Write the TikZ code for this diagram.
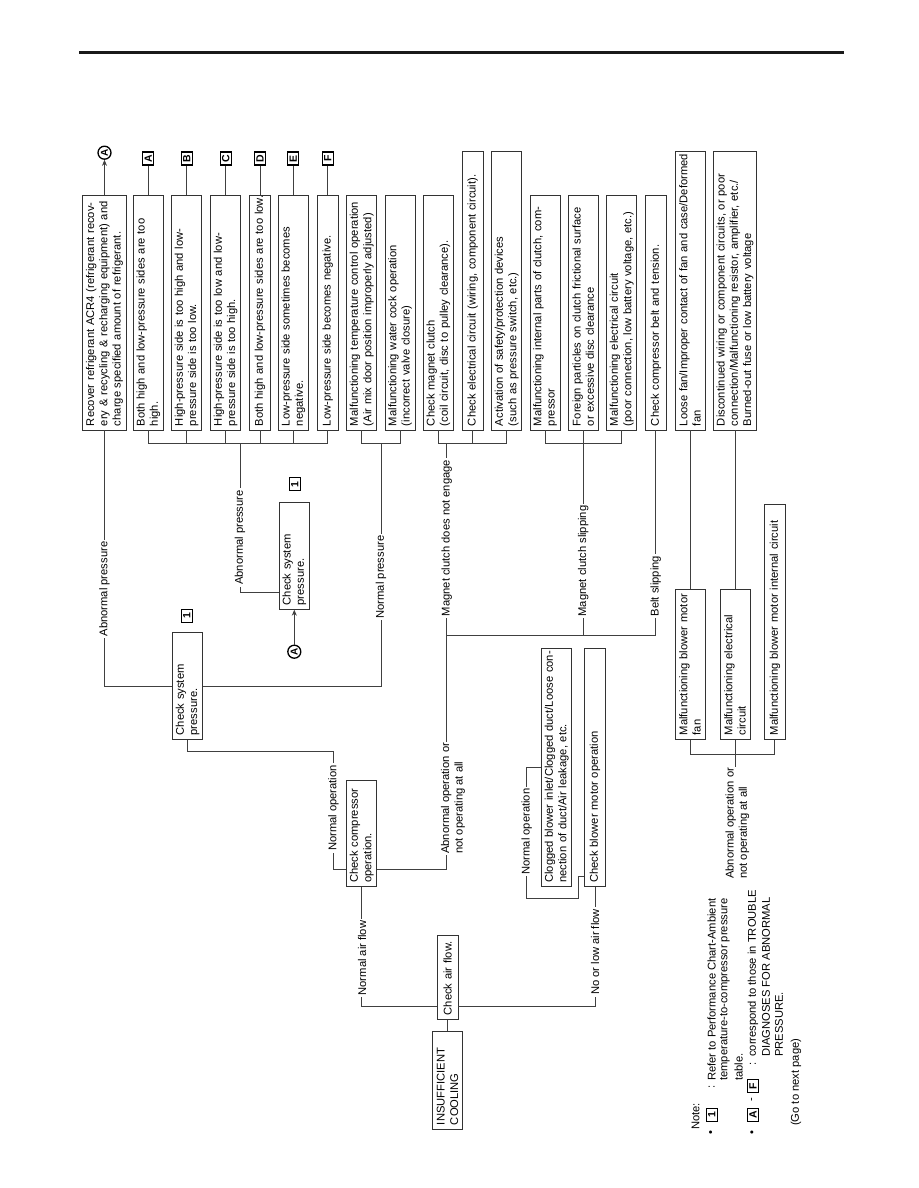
\documentclass[tikz,border=0pt]{standalone}
\usepackage{fontspec}
\setmainfont{Liberation Sans}
\usetikzlibrary{arrows.meta}
\newcommand{\fs}{\fontsize{11.2}{13.3}\selectfont}
\newcommand{\bx}[6]{%
  \pgfmathsetmacro{\bxw}{#5-#4}%
  \pgfmathsetmacro{\bxt}{#5-#4-8}%
  \pgfmathsetmacro{\bxh}{#3-#2}%
  \node[box, minimum width=\bxw pt, text width=\bxt pt, minimum height=\bxh pt] (#1) at ({(#2+#3)/2},{(#4+#5)/2}) {#6};}
\tikzset{
  box/.style={draw=black!80, line width=0.8pt, rotate=90, align=left, inner xsep=4pt, inner ysep=0pt, font=\fs},
  ln/.style={draw=black!75, line width=0.8pt},
  lab/.style={rotate=90, fill=white, inner xsep=2pt, inner ysep=0.5pt, font=\fs},
  labtwo/.style={rotate=90, fill=white, inner xsep=1pt, inner ysep=1pt, font=\fs, align=left, anchor=north west},
  sq/.style={draw=black, line width=1.2pt, rotate=90, minimum width=13pt, minimum height=11pt, inner sep=0pt, font=\bfseries\fontsize{10.5}{10.5}\selectfont},
  cir/.style={circle, draw=black, line width=1.3pt, rotate=90, minimum size=13pt, inner sep=0pt, font=\bfseries\fontsize{10}{10}\selectfont},
  arr/.style={ln, -{Stealth[length=6pt,width=5pt]}},
  note/.style={rotate=90, anchor=west, inner sep=0pt, font=\fs},
}
\begin{document}
\begin{tikzpicture}[x=1pt,y=-1pt]
\fill[white] (0,0) rectangle (918,1188);
\useasboundingbox (0,0) rectangle (918,1188);
\draw[line width=3pt, black!90] (79,53) -- (844,53);

% ---------- boxes ----------
\bx{rec}{82.5}{126.5}{195}{430}{\mbox{Recover refrigerant ACR4 (refrigerant recov-}\\\mbox{ery \& recycling \& recharging equipment) and}\\\mbox{charge specified amount of refrigerant.}}
\bx{bA}{133.3}{163.3}{195}{430}{\mbox{Both high and low-pressure sides are too}\\\mbox{high.}}
\bx{bB}{171.7}{201.7}{195}{430}{\mbox{High-pressure side is too high and low-}\\\mbox{pressure side is too low.}}
\bx{bC}{210.7}{240.7}{195}{430}{\mbox{High-pressure side is too low and low-}\\\mbox{pressure side is too high.}}
\bx{bD}{249.5}{270.5}{195}{430}{\mbox{Both high and low-pressure sides are too low.}}
\bx{bE}{278.3}{308.3}{195}{430}{\mbox{Low-pressure side sometimes becomes}\\\mbox{negative.}}
\bx{bF}{317.3}{338.3}{195}{430}{\mbox{Low-pressure side becomes negative.}}
\bx{tmp}{346.7}{376.7}{195}{430}{\mbox{Malfunctioning temperature control operation}\\\mbox{(Air mix door position improperly adjusted)}}
\bx{wat}{385}{415}{195}{430}{\mbox{Malfunctioning water cock operation}\\\mbox{(incorrect valve closure)}}
\bx{mag}{423.3}{453.3}{195}{430}{\mbox{Check magnet clutch}\\\mbox{(coil circuit, disc to pulley clearance).}}
\bx{elc}{462.3}{483.3}{151.7}{430}{\mbox{Check electrical circuit (wiring, component circuit).}}
\bx{saf}{491.7}{521.7}{151.7}{430}{\mbox{Activation of safety/protection devices}\\\mbox{(such as pressure switch, etc.)}}
\bx{inp}{530}{560}{195}{430}{\mbox{Malfunctioning internal parts of clutch, com-}\\\mbox{pressor}}
\bx{frg}{568.3}{598.3}{195}{430}{\mbox{Foreign particles on clutch frictional surface}\\\mbox{or excessive disc clearance}}
\bx{elt}{606.7}{636.7}{195}{430}{\mbox{Malfunctioning electrical circuit}\\\mbox{(poor connection, low battery voltage, etc.)}}
\bx{blt}{645}{666.7}{195}{430}{\mbox{Check compressor belt and tension.}}
\bx{lsf}{675}{705}{151.7}{430}{\mbox{Loose fan/Improper contact of fan and case/Deformed}\\\mbox{fan}}
\bx{dsc}{713.5}{756.5}{151.7}{430}{\mbox{Discontinued wiring or component circuits, or poor}\\\mbox{connection/Malfunctioning resistor, amplifier, etc./}\\\mbox{Burned-out fuse or low battery voltage}}
\bx{cspa}{172.7}{202.7}{632.7}{739.3}{\mbox{Check system}\\\mbox{pressure.}}
\bx{cspb}{279.3}{309.3}{502.3}{609.3}{\mbox{Check system}\\\mbox{pressure.}}
\bx{cco}{346.7}{376.7}{780}{886.7}{\mbox{Check compressor}\\\mbox{operation.}}
\bx{caf}{437}{458}{935}{1019.3}{\mbox{Check air flow.}}
\bx{ic}{432.5}{462.5}{1031.7}{1129}{\mbox{INSUFFICIENT}\\\mbox{COOLING}}
\bx{clg}{541.7}{571.7}{648.3}{886.7}{\mbox{Clogged blower inlet/Clogged duct/Loose con-}\\\mbox{nection of duct/Air leakage, etc.}}
\bx{cbm}{584.3}{605.7}{648.3}{886.7}{\mbox{Check blower motor operation}}
\bx{mbf}{675}{705}{589.3}{739.3}{\mbox{Malfunctioning blower motor}\\\mbox{fan}}
\bx{mec}{720}{750}{589.3}{739.3}{\mbox{Malfunctioning electrical}\\\mbox{circuit}}
\bx{mbi}{764}{785.7}{504.3}{739.3}{\mbox{Malfunctioning blower motor internal circuit}}

% ---------- markers ----------
\node[cir] (cAa) at (104.5,152.7) {A};
\node[cir] (cAb) at (294.3,651.7) {A};
\node[sq] (sqA) at (148.3,158.5) {A};
\node[sq] (sqB) at (186.7,158.5) {B};
\node[sq] (sqC) at (225.7,158.5) {C};
\node[sq] (sqD) at (260,158.5) {D};
\node[sq] (sqE) at (293.3,158.5) {E};
\node[sq] (sqF) at (327.8,158.5) {F};
\node[sq] (one1) at (186.7,616) {1};
\node[sq] (one2) at (294.7,484.3) {1};

% ---------- level coordinates ----------
\coordinate (brY) at (0,443.3);
\coordinate (yMag) at (0,635);
\coordinate (yAb) at (0,592.7);
\coordinate (yCcoL) at (0,869);
\coordinate (yCaf) at (0,1006.5);
\coordinate (yCbm) at (0,876.7);
\coordinate (yBlw) at (0,754.3);
\coordinate (jAF) at (240,443.3);
\coordinate (jTW) at (381,443.3);
\coordinate (jMg) at (446.7,443.3);
\coordinate (jMag) at (446.7,635);
\coordinate (jCp) at (333.5,751.7);
\coordinate (jBm) at (578.3,898.3);
\coordinate (jNo) at (526.7,898.3);
\coordinate (blwEnd) at (735,768);

% ---------- connectors ----------
\draw[arr] (rec.east) -- (cAa);
\draw[arr] (cAb) -- (cspb.west);
\foreach \n/\s in {bA/sqA,bB/sqB,bC/sqC,bD/sqD,bE/sqE,bF/sqF} \draw[ln] (\n.east) -- (\s);
\draw[ln] (bA.west) |- (bF.west |- brY) -- (bF.west);
\foreach \n in {bB,bC,bD,bE} \draw[ln] (\n.west) -- (\n.west |- brY);
\draw[ln] (jAF) |- (cspb.north |- yAb);
\draw[ln] (tmp.west) |- (wat.west |- brY) -- (wat.west);
\draw[ln] (jTW) |- (cspa.south);
\draw[ln] (rec.west) |- (cspa.north);
\draw[ln] (cspa.west) |- (jCp) |- (cco.north |- yCcoL);
\draw[ln] (cco.south |- yCcoL) -| (jMag);
\draw[ln] (jMag) -- (blt.west |- yMag);
\draw[ln] (jMag) -- (jMg);
\draw[ln] (mag.west) |- (saf.west |- brY) -- (saf.west);
\draw[ln] (elc.west) -- (elc.west |- brY);
\draw[ln] (inp.west) |- (elt.west |- brY) -- (elt.west);
\draw[ln] (frg.west) -- (frg.west |- yMag);
\draw[ln] (blt.west) -- (blt.west |- yMag);
\draw[ln] (caf.north |- yCaf) -| (cco.west);
\draw[ln] (caf.south |- yCaf) -| (cbm.west);
\draw[ln] (ic.east) -- (caf.west);
\draw[ln] (cbm.north |- yCbm) -| (jBm) -- (jNo) |- (clg.north);
\draw[ln] (lsf.west) -- (mbf.east);
\draw[ln] (dsc.west) -- (mec.east);
\draw[ln] (mbf.west) |- (mbi.west |- yBlw) -- (mbi.west);
\draw[ln] (mec.west) -- (blwEnd);

% ---------- labels on connectors ----------
\node[lab] (lAbL) at (104.5,589) {Abnormal pressure};
\node[lab] (lAbR) at (240,537.5) {Abnormal pressure};
\node[lab] (lNp) at (381,577) {Normal pressure};
\node[lab] (lMne) at (446.7,538) {Magnet clutch does not engage};
\node[lab] (lMs) at (583.3,561) {Magnet clutch slipping};
\node[lab] (lBs) at (655.8,586) {Belt slipping};
\node[lab] (lNo1) at (333.5,808) {Normal operation};
\node[lab] (lNaf) at (362,958) {Normal air flow};
\node[lab] (lNla) at (595,952) {No or low air flow};
\node[lab] (lNo2) at (526.7,831.5) {Normal operation};
\node[labtwo] (lAo1) at (439.9,855) {Abnormal operation or\\not operating at all};
\node[labtwo] (lAo2) at (724.2,880) {Abnormal operation or\\not operating at all};

% ---------- note ----------
\node[note] (nt0) at (695.5,1130) {Note:};
\node[note] (nt1b) at (711.7,1135) {\textbullet};
\node[sq] (nt1s) at (711.7,1115) {1};
\node[note] (nt1c) at (711.7,1089) {:};
\node[note] (nt1) at (711.7,1081) {Refer to Performance Chart-Ambient};
\node[note] (nt2) at (725,1081) {temperature-to-compressor pressure};
\node[note] (nt3) at (738.5,1081) {table.};
\node[note] (nt4b) at (753,1135) {\textbullet};
\node[sq] (nt4A) at (753,1115) {A};
\node[note] (nt4d) at (753,1102) {-};
\node[sq] (nt4F) at (753,1086) {F};
\node[note] (nt4c) at (753,1066) {:};
\node[note] (nt4) at (753,1057) {correspond to those in TROUBLE};
\node[note] (nt5) at (766,1057) {DIAGNOSES FOR ABNORMAL};
\node[note] (nt6) at (779,1057) {PRESSURE.};
\node[note] (nt7) at (796,1126) {(Go to next page)};
\end{tikzpicture}
\end{document}
